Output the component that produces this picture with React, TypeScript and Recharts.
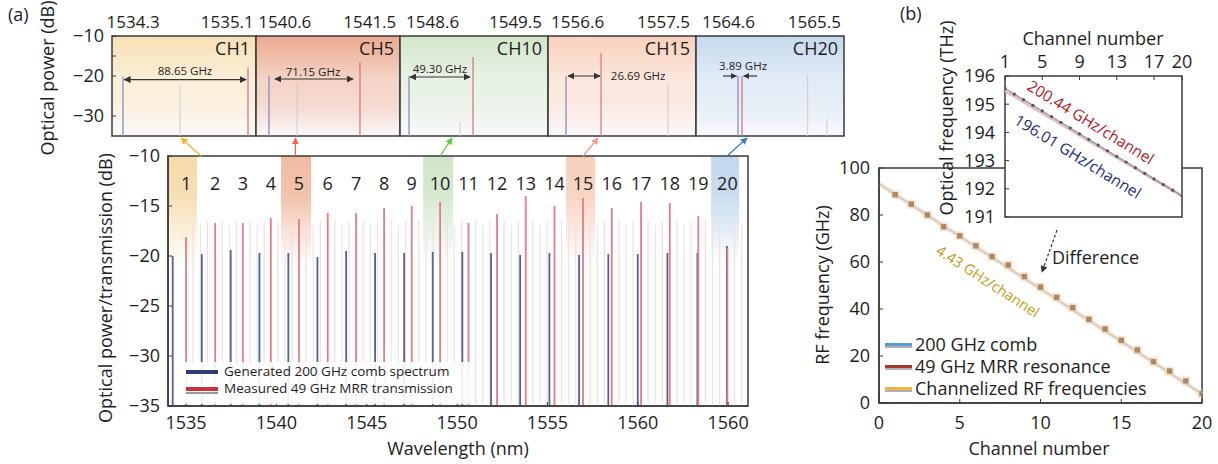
import React from "react";
import {
  ComposedChart,
  XAxis,
  YAxis,
  Scatter,
  Line,
  ReferenceLine,
  ReferenceArea,
  ReferenceDot,
} from "recharts";

const FONT = "'Open Sans', 'Noto Sans', 'DejaVu Sans', sans-serif";
const INK = "#1d1d1d";
const FRAME = "#3a3a3a";

// ---------- (a) main spectrum, 20 channels
const channelNo = [1, 2, 3, 4, 5, 6, 7, 8, 9, 10, 11, 12, 13, 14, 15, 16, 17, 18, 19, 20];
const combWl = [1534.26, 1535.87, 1537.47, 1539.06, 1540.66, 1542.27, 1543.86, 1545.46, 1547.07, 1548.65, 1550.29, 1551.88, 1553.49, 1555.11, 1556.75, 1558.37, 1560.0, 1561.64, 1563.3, 1564.93];
const combDb = [-20.0, -19.8, -19.4, -19.7, -19.7, -20.1, -19.5, -19.7, -19.7, -19.6, -19.6, -19.7, -19.9, -19.7, -19.9, -19.8, -19.8, -19.7, -19.7, -19.0];
const mrrWl = [1535.0, 1536.61, 1538.14, 1539.69, 1541.25, 1542.84, 1544.41, 1545.96, 1547.49, 1549.06, 1550.63, 1552.21, 1553.8, 1555.39, 1556.97, 1558.56, 1560.18, 1561.77, 1563.35, 1564.96];
const mrrDb = [-18.1, -16.7, -16.7, -16.2, -16.3, -15.7, -15.7, -15.2, -15.0, -14.6, -16.7, -15.8, -14.0, -15.0, -14.2, -15.2, -14.6, -14.7, -16.0, -19.2];
// weaker MRR resonances between channels (offset from each channel resonance, nm)
const mrrSideOffset = [0.39, 0.79, 1.18];
const mrrSideDb = [-16.4, -16.9, -16.5];
const wlTicks = [1535, 1540, 1545, 1550, 1555, 1560, 1565];
const wlTickText = ["1535", "1540", "1545", "1550", "1555", "1560", "1560"];
const dbTicks = [-35, -30, -25, -20, -15, -10];
const zoomChannels = [1, 5, 10, 15, 20];
const zoomBandLo = [1534.0, 1540.26, 1548.12, 1556.03, 1564.06];
const zoomBandHi = [1535.6, 1541.92, 1549.78, 1557.64, 1565.61];
const linkFrom = [1535.83, 1541.05, 1549.06, 1556.97, 1564.94];
const linkTo = [1534.72, 1541.05, 1549.72, 1557.8, 1566.05];

// ---------- (a) zoomed channel insets
const insetName = ["CH1", "CH5", "CH10", "CH15", "CH20"];
const insetLo = [1534.121, 1540.295, 1548.246, 1556.29, 1564.26];
const insetHi = [1535.344, 1541.82, 1549.853, 1557.84, 1565.81];
const insetTicks = [[1534.3, 1535.1], [1540.6, 1541.5], [1548.6, 1549.5], [1556.6, 1557.5], [1564.6, 1565.5]];
const insetCombWl = [1534.214, 1540.432, 1548.344, 1556.479, 1564.7];
const insetCombDb = [-20.2, -20.0, -20.0, -20.0, -20.0];
const insetMrrWl = [1535.276, 1541.396, 1549.039, 1556.846, 1564.742];
const insetMrrDb = [-17.9, -16.5, -15.25, -14.25, -20.0];
const insetSpurWl = [[1534.698], [1540.73], [1548.9], [1557.548], [1565.43, 1565.63]];
const insetSpurDb = [[-22.5], [-21.8], [-31.5], [-22.0], [-19.8, -30.5]];
const insetGapText = ["88.65 GHz", "71.15 GHz", "49.30 GHz", "26.69 GHz", "3.89 GHz"];
const insetGapArrows = [
  [{ from: 1534.225, to: 1535.26, db: -20.9, both: true }],
  [{ from: 1540.496, to: 1541.323, db: -20.75, both: true }],
  [{ from: 1548.355, to: 1549.006, db: -20.25, both: true }],
  [{ from: 1556.5, to: 1556.835, db: -20.0, both: true }],
  [
    { from: 1564.543, to: 1564.684, db: -20.0, both: false },
    { from: 1564.9, to: 1564.76, db: -20.0, both: false },
  ],
];
const insetGapLabelAt = [[1534.741, -18.6], [1540.899, -18.75], [1548.68, -18.0], [1557.234, -19.75], [1564.753, -17.25]];
const insetDbTicks = [-30, -20, -15, -10];

// ---------- (b) RF frequencies
const rfChannel = channelNo;
const rfGHz = [88.65, 84.6, 80.0, 75.0, 71.15, 66.9, 62.3, 58.7, 53.8, 49.3, 45.0, 40.6, 35.6, 31.5, 26.69, 22.6, 17.6, 13.6, 9.4, 3.89];
const fitChannel = [0, 20];
const fitGHz = [93.3, 3.8];
const rfTicksX = [0, 5, 10, 15, 20];
const rfTicksY = [0, 20, 40, 60, 80, 100];

// ---------- (b) inset optical frequencies
const optChannel = channelNo;
const optCombTHz = [195.56, 195.36, 195.16, 194.96, 194.76, 194.56, 194.36, 194.16, 193.95, 193.75, 193.55, 193.35, 193.15, 192.95, 192.75, 192.55, 192.35, 192.15, 191.95, 191.75];
const optMrrTHz = [195.47, 195.28, 195.08, 194.88, 194.69, 194.49, 194.3, 194.1, 193.9, 193.7, 193.51, 193.31, 193.11, 192.92, 192.72, 192.53, 192.33, 192.14, 191.94, 191.75];
const optTicksX = [1, 5, 9, 13, 17, 20];
const optTicksY = [191, 192, 193, 194, 195, 196];

// styles
const bandColors = ["#f5d9a6", "#f0b79d", "#cfe4c6", "#f7cdb9", "#bfd6ec"];
const linkColors = ["#f2b32e", "#f4674c", "#55d136", "#f59b86", "#3a7dc9"];
const insetBgColors = ["#f7e0b5", "#ebaa90", "#d2e6cb", "#f8d0bc", "#c6d9ed"];
const insetPx = [[112, 256], [256, 400], [400, 548], [548, 696], [696, 844]];

const tickStyle = { fontSize: 18, fill: INK, fontFamily: FONT };
const minus = (v: number | string) => String(v).replace("-", "\u2212");

const textAt = (text: string, color: string, size: number, angle = 0, anchor = "middle") => (p: any) => (
  <text
    x={p.cx}
    y={p.cy}
    transform={angle ? `rotate(${angle} ${p.cx} ${p.cy})` : undefined}
    textAnchor={anchor}
    dominantBaseline="central"
    fill={color}
    fontSize={size}
    fontFamily={FONT}
  >
    {text}
  </text>
);

const arrowLine = (color: string, width: number, endMarker?: string, startMarker?: string, dash?: string) => (p: any) => (
  <line
    x1={p.x1}
    y1={p.y1}
    x2={p.x2}
    y2={p.y2}
    stroke={color}
    strokeWidth={width}
    strokeDasharray={dash}
    markerEnd={endMarker ? `url(#${endMarker})` : undefined}
    markerStart={startMarker ? `url(#${startMarker})` : undefined}
  />
);

function Defs() {
  const head = (id: string, color: string, size: number) => (
    <marker key={id} id={id} viewBox="0 0 10 10" refX="9" refY="5" markerWidth={size} markerHeight={size} markerUnits="userSpaceOnUse" orient="auto-start-reverse">
      <path d="M0,0 L10,5 L0,10 z" fill={color} />
    </marker>
  );
  return (
    <svg width={0} height={0} style={{ position: "absolute" }}>
      <defs>
        {insetBgColors.map((c, i) => (
          <linearGradient key={`bg${i}`} id={`insetBg${i}`} x1="0" y1="0" x2="0" y2="1">
            <stop offset="0" stopColor={c} />
            <stop offset="0.45" stopColor={c} stopOpacity={0.5} />
            <stop offset="1" stopColor="#fbfafd" stopOpacity={1} />
          </linearGradient>
        ))}
        {bandColors.map((c, i) => (
          <linearGradient key={`hl${i}`} id={`hl${i}`} x1="0" y1="0" x2="0" y2="1">
            <stop offset="0" stopColor={c} stopOpacity={0.95} />
            <stop offset="0.35" stopColor={c} stopOpacity={0.85} />
            <stop offset="1" stopColor={c} stopOpacity={0} />
          </linearGradient>
        ))}
        {head("ah-dark", "#333", 7)}
        {head("ah-small", "#333", 6)}
        {linkColors.map((c, i) => head(`ah-link${i}`, c, 7))}
      </defs>
    </svg>
  );
}

function SpectrumMain() {
  const tops = combWl.map((wl, i) => ({ wl, db: combDb[i] }));
  return (
    <div style={{ position: "absolute", left: 100, top: 130 }}>
      <ComposedChart width={660} height={334} data={tops} margin={{ top: 26, right: 12, bottom: 28, left: 18 }}>
        {zoomChannels.map((ch, i) => (
          <ReferenceArea key={`band${ch}`} x1={zoomBandLo[i]} x2={zoomBandHi[i]} y1={-21} y2={-10} fill={`url(#hl${i})`} fillOpacity={1} stroke="none" />
        ))}
        {mrrWl.map((wl, i) =>
          mrrSideOffset.map((o, j) => (
            <ReferenceLine
              key={`side${i}-${j}`}
              segment={[{ x: wl + o, y: -35 }, { x: wl + o, y: mrrSideDb[j] }]}
              stroke={j === 1 ? "#e2e9ea" : "#f4dde0"}
              strokeWidth={1.2}
            />
          ))
        )}
        {combWl.map((wl, i) => (
          <ReferenceLine key={`comb${i}`} segment={[{ x: wl, y: -35 }, { x: wl, y: combDb[i] }]} stroke="#56618f" strokeWidth={1.8} />
        ))}
        {mrrWl.map((wl, i) => (
          <ReferenceLine key={`mrr${i}`} segment={[{ x: wl, y: -35 }, { x: wl, y: mrrDb[i] }]} stroke="#e07d88" strokeWidth={1.8} />
        ))}
        <Scatter dataKey="db" isAnimationActive={false} shape={() => <g />} />
        {channelNo.map((ch, i) => (
          <ReferenceDot key={`lab${ch}`} x={mrrWl[i]} y={-12.7} shape={textAt(String(ch), INK, 18)} />
        ))}
        {linkFrom.map((x, i) => (
          <ReferenceLine
            key={`link${i}`}
            ifOverflow="visible"
            segment={[{ x, y: -10 }, { x: linkTo[i], y: -8.2 }]}
            shape={arrowLine(linkColors[i], 1.3, `ah-link${i}`)}
          />
        ))}
        <ReferenceArea x1={1534} x2={1566.1} y1={-35} y2={-10} fill="none" stroke={FRAME} strokeWidth={1.5} />
        <XAxis
          dataKey="wl"
          type="number"
          domain={[1534, 1566.1]}
          ticks={wlTicks}
          interval={0}
          allowDataOverflow
          tickFormatter={(v: number) => wlTickText[wlTicks.indexOf(v)] ?? String(v)}
          height={30}
          tickSize={-4}
          tickMargin={14}
          axisLine={{ stroke: FRAME, strokeWidth: 1.5 }}
          tickLine={{ stroke: FRAME }}
          tick={tickStyle}
        />
        <YAxis
          dataKey="db"
          type="number"
          domain={[-35, -10]}
          ticks={dbTicks}
          interval={0}
          allowDataOverflow
          tickFormatter={minus}
          width={50}
          tickSize={-4}
          tickMargin={12}
          axisLine={{ stroke: FRAME, strokeWidth: 1.5 }}
          tickLine={{ stroke: FRAME }}
          tick={tickStyle}
        />
      </ComposedChart>
    </div>
  );
}

function ZoomInset({ i }: { i: number }) {
  const [L, R] = insetPx[i];
  const first = i === 0;
  const ml = first ? 50 : 4;
  const yw = first ? 46 : 1;
  const pts = [
    { wl: insetCombWl[i], db: insetCombDb[i] },
    { wl: insetMrrWl[i], db: insetMrrDb[i] },
  ];
  return (
    <div style={{ position: "absolute", left: L - ml, top: 0 }}>
      <ComposedChart width={R - L + ml + 4} height={145} data={pts} margin={{ top: 8, right: 4, bottom: 9, left: ml - yw }}>
        <ReferenceArea
          x1={insetLo[i]}
          x2={insetHi[i]}
          y1={-35}
          y2={-10}
          fill={`url(#insetBg${i})`}
          fillOpacity={1}
          stroke={FRAME}
          strokeWidth={1.5}
          label={{ value: insetName[i], position: "insideTopRight", offset: 6, fontSize: 18, fill: INK, fontFamily: FONT }}
        />
        {insetSpurWl[i].map((wl, j) => (
          <ReferenceLine key={`sp${j}`} segment={[{ x: wl, y: -35 }, { x: wl, y: insetSpurDb[i][j] }]} stroke="#d3c8ce" strokeWidth={1} />
        ))}
        <ReferenceLine segment={[{ x: insetCombWl[i], y: -35 }, { x: insetCombWl[i], y: insetCombDb[i] }]} stroke="#8e95c0" strokeWidth={1.4} />
        <ReferenceLine segment={[{ x: insetMrrWl[i], y: -35 }, { x: insetMrrWl[i], y: insetMrrDb[i] }]} stroke="#d66f7c" strokeWidth={1.2} />
        <Scatter dataKey="db" isAnimationActive={false} shape={() => <g />} />
        {insetGapArrows[i].map((a, j) => (
          <ReferenceLine
            key={`gap${j}`}
            segment={[{ x: a.from, y: a.db }, { x: a.to, y: a.db }]}
            shape={arrowLine("#333", 1.2, a.both ? "ah-dark" : "ah-small", a.both ? "ah-dark" : undefined)}
          />
        ))}
        <ReferenceDot x={insetGapLabelAt[i][0]} y={insetGapLabelAt[i][1]} shape={textAt(insetGapText[i], "#222", 11.5)} />
        <XAxis
          dataKey="wl"
          type="number"
          orientation="top"
          domain={[insetLo[i], insetHi[i]]}
          ticks={insetTicks[i]}
          interval={0}
          allowDataOverflow
          tickFormatter={(v: number) => v.toFixed(1)}
          height={28}
          tickSize={0}
          tickMargin={8}
          axisLine={false}
          tickLine={false}
          tick={{ fontSize: 17, fill: INK, fontFamily: FONT }}
        />
        <YAxis
          dataKey="db"
          type="number"
          domain={[-35, -10]}
          ticks={insetDbTicks}
          interval={0}
          allowDataOverflow
          tickFormatter={(v: number) => (v === -15 ? "" : minus(v))}
          width={yw}
          tickSize={-4}
          tickMargin={12}
          axisLine={false}
          tickLine={{ stroke: FRAME }}
          tick={first ? tickStyle : false}
        />
      </ComposedChart>
    </div>
  );
}

const squareShape = (p: any) => (
  <g>
    <rect x={p.cx - 4.5} y={p.cy - 4.5} width={9} height={9} fill="#f6d2ae" opacity={0.5} />
    <rect x={p.cx - 2.7} y={p.cy - 2.7} width={5.4} height={5.4} fill="#ad8866" />
  </g>
);

function RfPanel() {
  const rows = rfChannel.map((ch, i) => ({ ch, f: rfGHz[i] }));
  const fitSeg = [
    { x: fitChannel[0], y: fitGHz[0] },
    { x: fitChannel[1], y: fitGHz[1] },
  ];
  return (
    <div style={{ position: "absolute", left: 790, top: 140 }}>
      <ComposedChart width={428} height={324} data={rows} margin={{ top: 28, right: 16, bottom: 31, left: 29 }}>
        <ReferenceLine segment={fitSeg} stroke="#f8d8b8" strokeWidth={4.5} strokeOpacity={0.7} />
        <ReferenceLine segment={fitSeg} stroke="#a9c6dc" strokeWidth={1.1} />
        <Scatter dataKey="f" isAnimationActive={false} shape={squareShape} />
        <ReferenceLine segment={[{ x: 11.02, y: 73.6 }, { x: 10.09, y: 55.7 }]} shape={arrowLine("#333", 1.2, "ah-dark", undefined, "3 2")} />
        <ReferenceDot x={10.71} y={62.1} shape={textAt("Difference", INK, 18, 0, "start")} />
        <ReferenceDot x={6.75} y={51.9} shape={textAt("4.43 GHz/channel", "#c29a12", 14.5, 33)} />
        <ReferenceArea x1={0} x2={20} y1={0} y2={100} fill="none" stroke={FRAME} strokeWidth={1.5} />
        <XAxis
          dataKey="ch"
          type="number"
          domain={[0, 20]}
          ticks={rfTicksX}
          interval={0}
          allowDataOverflow
          height={30}
          tickSize={-4}
          tickMargin={17}
          axisLine={{ stroke: FRAME, strokeWidth: 1.5 }}
          tickLine={{ stroke: FRAME }}
          tick={tickStyle}
        />
        <YAxis
          dataKey="f"
          type="number"
          domain={[0, 100]}
          ticks={rfTicksY}
          interval={0}
          allowDataOverflow
          width={60}
          tickSize={-4}
          tickMargin={13}
          axisLine={{ stroke: FRAME, strokeWidth: 1.5 }}
          tickLine={{ stroke: FRAME }}
          tick={tickStyle}
        />
      </ComposedChart>
    </div>
  );
}

function OpticalInset() {
  const rows = optChannel.map((ch, i) => ({ ch, comb: optCombTHz[i], mrr: optMrrTHz[i] }));
  return (
    <div style={{ position: "absolute", left: 900, top: 0 }}>
      <ComposedChart width={300} height={230} data={rows} margin={{ top: 46, right: 18, bottom: 13, left: 45 }}>
        <ReferenceArea x1={1} x2={20} y1={191} y2={196} fill="#ffffff" fillOpacity={1} stroke={FRAME} strokeWidth={1.5} />
        <Line type="linear" dataKey="mrr" stroke="#e6bcc3" strokeWidth={3} dot={false} isAnimationActive={false} />
        <Line type="linear" dataKey="comb" stroke="#8b8fa8" strokeWidth={1.1} dot={{ r: 1.6, fill: "#555", stroke: "none" }} isAnimationActive={false} />
        <ReferenceDot x={10.23} y={194.37} shape={textAt("200.44 GHz/channel", "#b3191c", 15.5, 31.6)} />
        <ReferenceDot x={8.84} y={193.16} shape={textAt("196.01 GHz/channel", "#1b2a7c", 15.5, 31.6)} />
        <XAxis
          dataKey="ch"
          type="number"
          orientation="top"
          domain={[1, 20]}
          ticks={optTicksX}
          interval={0}
          allowDataOverflow
          height={30}
          tickSize={-4}
          tickMargin={12}
          axisLine={false}
          tickLine={{ stroke: FRAME }}
          tick={tickStyle}
        />
        <YAxis
          type="number"
          domain={[191, 196]}
          ticks={optTicksY}
          interval={0}
          allowDataOverflow
          width={60}
          tickSize={-4}
          tickMargin={14}
          axisLine={false}
          tickLine={{ stroke: FRAME }}
          tick={tickStyle}
        />
      </ComposedChart>
    </div>
  );
}

const legendALabels = ["Generated 200 GHz comb spectrum", "Measured 49 GHz MRR transmission"];
const legendAColors = ["#2e3d74", "#c8323c"];
const legendBLabels = ["200 GHz comb", "49 GHz MRR resonance", "Channelized RF frequencies"];
const legendBColors = ["#5b9bd5", "#a5382e", "#f2b33d"];

function LegendA() {
  return (
    <div style={{ position: "absolute", left: 178, top: 362, width: 295, height: 42, background: "rgba(255,255,255,0.9)" }}>
      {legendALabels.map((t, i) => (
        <div key={t} style={{ position: "absolute", left: 0, top: 1 + i * 17, height: 17, width: 295 }}>
          <div style={{ position: "absolute", left: 8, top: 7, width: 32, height: 3.5, background: legendAColors[i] }} />
          {i === 1 && <div style={{ position: "absolute", left: 8, top: 11.5, width: 32, height: 2, background: "#9a9a9a" }} />}
          <div style={{ position: "absolute", left: 46, top: 0, fontSize: 13.5, lineHeight: "17px", color: INK, whiteSpace: "nowrap" }}>{t}</div>
        </div>
      ))}
    </div>
  );
}

function LegendB() {
  return (
    <div style={{ position: "absolute", left: 884, top: 333, width: 300, height: 66 }}>
      {legendBLabels.map((t, i) => (
        <div key={t} style={{ position: "absolute", left: 0, top: i * 22, height: 22, width: 300 }}>
          <div style={{ position: "absolute", left: 1, top: 10, width: 27, height: 3, background: legendBColors[i] }} />
          <div style={{ position: "absolute", left: 1, top: 13, width: 27, height: 1.5, background: "#b0b0b0" }} />
          <div style={{ position: "absolute", left: 31, top: 0, fontSize: 18, lineHeight: "22px", color: INK, whiteSpace: "nowrap" }}>{t}</div>
        </div>
      ))}
    </div>
  );
}

function Titles() {
  const common = { fill: INK, fontFamily: FONT, fontSize: 18 };
  const vert = (x: number, y: number, s: string) => (
    <text transform={`translate(${x},${y}) rotate(-90)`} textAnchor="middle" dominantBaseline="central" {...common}>
      {s}
    </text>
  );
  return (
    <svg width={1218} height={464} style={{ position: "absolute", left: 0, top: 0, pointerEvents: "none" }}>
      <text x={8} y={21} {...common}>(a)</text>
      <text x={900} y={20} {...common}>(b)</text>
      {vert(47, 78, "Optical power (dB)")}
      {vert(105, 288, "Optical power/transmission (dB)")}
      <text x={458} y={455} textAnchor="middle" {...common}>Wavelength (nm)</text>
      {vert(822, 285, "RF frequency (GHz)")}
      <text x={1039} y={455} textAnchor="middle" {...common}>Channel number</text>
      <text x={1093} y={45} textAnchor="middle" {...common}>Channel number</text>
      {vert(946, 118, "Optical frequency (THz)")}
    </svg>
  );
}

export default function App() {
  return (
    <div style={{ position: "absolute", left: 0, top: 0, width: 1218, height: 464, background: "#fff", fontFamily: FONT, overflow: "hidden" }}>
      <Defs />
      <SpectrumMain />
      {insetName.map((n, i) => (
        <ZoomInset key={n} i={i} />
      ))}
      <RfPanel />
      <OpticalInset />
      <LegendA />
      <LegendB />
      <Titles />
    </div>
  );
}
